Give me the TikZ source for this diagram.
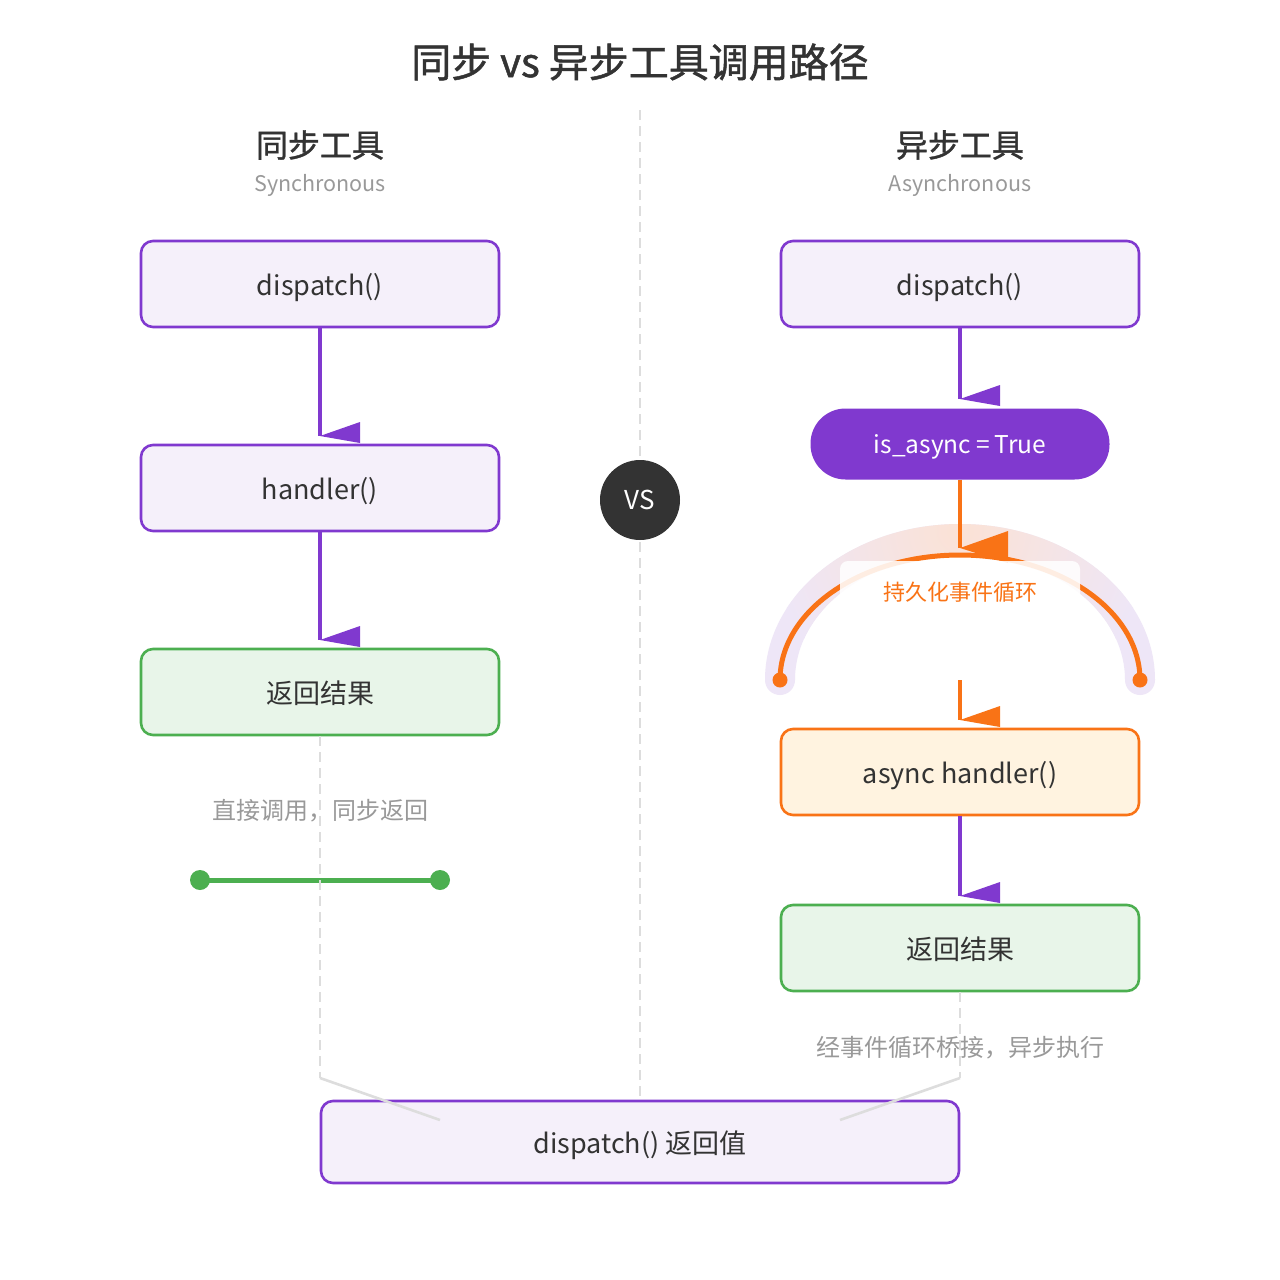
\documentclass[tikz,border=0pt]{standalone}
\usepackage{fontspec}
\setmainfont{Noto Sans CJK SC}
\newfontfamily\titlefont[FakeBold=1.2]{Noto Sans CJK SC}
\usetikzlibrary{calc}
\definecolor{pur}{HTML}{8039CF}
\definecolor{purfill}{HTML}{F5F0FA}
\definecolor{grn}{HTML}{4CAF50}
\definecolor{grnfill}{HTML}{E8F5E9}
\definecolor{org}{HTML}{F97316}
\definecolor{orgfill}{HTML}{FFF3E0}
\definecolor{txt}{HTML}{333333}
\definecolor{gtxt}{HTML}{999999}
\definecolor{gline}{HTML}{DDDDDD}
\definecolor{lav}{HTML}{EEE6F7}
\definecolor{peach}{HTML}{FBE2D5}
\newcommand\flagtip[2]{\fill[#2] (#1) -- ++(40,-14) -- ++(0,21) -- cycle;}
\begin{document}
\begin{tikzpicture}[x=1pt,y=-1pt,
  box/.style={draw=pur,fill=purfill,line width=2.6pt,rounded corners=12pt,minimum width=358pt,minimum height=86pt,text=txt,font=\fontsize{27}{32}\selectfont,text depth=0pt},
  gbox/.style={box,draw=grn,fill=grnfill},
  obox/.style={box,draw=org,fill=orgfill},
  conn/.style={line width=3.2pt},
  gdash/.style={draw=gline,line width=2.6pt,dash pattern=on 10pt off 6pt},
  gsolid/.style={draw=gline,line width=2.6pt},
  note/.style={text=gtxt,font=\fontsize{24}{28}\selectfont},
]
\useasboundingbox (0,0) rectangle (1280,1280);
\fill[white] (0,0) rectangle (1280,1280);

% title and headings
\node[text=txt,font=\fontsize{40}{48}\titlefont] (title) at (640,62) {同步 vs 异步工具调用路径};
\node[text=txt,font=\fontsize{32}{38}\titlefont] (hs) at (320,145) {同步工具};
\node[text=gtxt,font=\fontsize{21.5}{26}\selectfont] (hse) at (320,185) {Synchronous};
\node[text=txt,font=\fontsize{32}{38}\titlefont] (ha) at (960,145) {异步工具};
\node[text=gtxt,font=\fontsize{21.5}{26}\selectfont] (hae) at (960,185) {Asynchronous};

% centre divider
\coordinate (divtop) at (640,110);
\coordinate (divbot) at (640,1100);
\draw[gdash] (divtop) -- (divbot);
\node[circle,fill=txt,minimum size=80pt,inner sep=0pt,text=white,font=\fontsize{26}{30}\selectfont] (vs) at (640,500) {VS};

% left column
\node[box] (d1) at (320,284) {dispatch()};
\node[box] (h1) at (320,488) {handler()};
\node[gbox] (r1) at (320,692) {返回结果};
\coordinate (t1) at (320,436);
\coordinate (t2) at (320,640);
\draw[pur,conn] (d1.south) -- (t1);
\flagtip{t1}{pur}
\draw[pur,conn] (h1.south) -- (t2);
\flagtip{t2}{pur}

\node[note] (n1) at (320,811) {直接调用，同步返回};
\coordinate (gl) at (200,880);
\coordinate (gr) at (440,880);
\draw[grn,line width=5pt] (gl) -- (gr);
\fill[grn] (gl) circle (10);
\fill[grn] (gr) circle (10);

% right column
\node[box] (d2) at (960,284) {dispatch()};
\node[rectangle,rounded corners=35pt,fill=pur,minimum width=299pt,minimum height=71pt,text=white,font=\fontsize{24.5}{28}\selectfont,text depth=0pt] (pill) at (960,444) {is\_async\hspace{5pt}=\hspace{5pt}True};
\coordinate (t3) at (960,399);
\draw[pur,conn] (d2.south) -- (t3);
\flagtip{t3}{pur}

% event loop band
\begin{scope}
\path[clip] (765,680) arc[start angle=180,end angle=360,x radius=195,y radius=156]
  arc[start angle=0,end angle=180,x radius=15,y radius=15]
  arc[start angle=360,end angle=180,x radius=165,y radius=126]
  arc[start angle=0,end angle=180,x radius=15,y radius=15] -- cycle;
\fill[lav] (740,500) rectangle (1180,720);
\shade[inner color=peach,outer color=lav] (960,530) circle (190);
\end{scope}
\draw[org,line width=5pt] (780,680) arc[start angle=180,end angle=360,x radius=180,y radius=125];
\fill[org] (780,680) circle (7.5);
\fill[org] (1140,680) circle (7.5);

\coordinate (t4) at (960,548);
\draw[org,conn] (pill.south) -- (t4);
\fill[org] (t4) -- ++(48,-17) -- ++(0,32) -- cycle;
\node[fill=white,fill opacity=0.88,rounded corners=8pt,minimum width=240pt,minimum height=62pt,text opacity=1,text=org,font=\fontsize{22}{26}\selectfont,inner sep=0pt] (loop) at (960,592) {持久化事件循环};

\node[obox] (ah) at (960,772) {async handler()};
\node[gbox] (r2) at (960,948) {返回结果};
\coordinate (s5) at (960,680);
\coordinate (t5) at (960,720);
\draw[org,conn] (s5) -- (t5);
\flagtip{t5}{org}
\coordinate (t6) at (960,896);
\draw[pur,conn] (ah.south) -- (t6);
\flagtip{t6}{pur}

\node[note] (n2) at (960,1048) {经事件循环桥接，异步执行};

% bottom
\node[box,minimum width=638pt,minimum height=82pt] (fin) at (640,1142) {dispatch() 返回值};
\coordinate (lk1) at (320,1078);
\coordinate (lk2) at (440,1120);
\coordinate (rk1) at (960,1078);
\coordinate (rk2) at (840,1120);
\draw[gdash] (r1.south) -- (lk1);
\draw[gsolid] (lk1) -- (lk2);
\draw[gdash] (r2.south) -- (rk1);
\draw[gsolid] (rk1) -- (rk2);
\end{tikzpicture}
\end{document}
